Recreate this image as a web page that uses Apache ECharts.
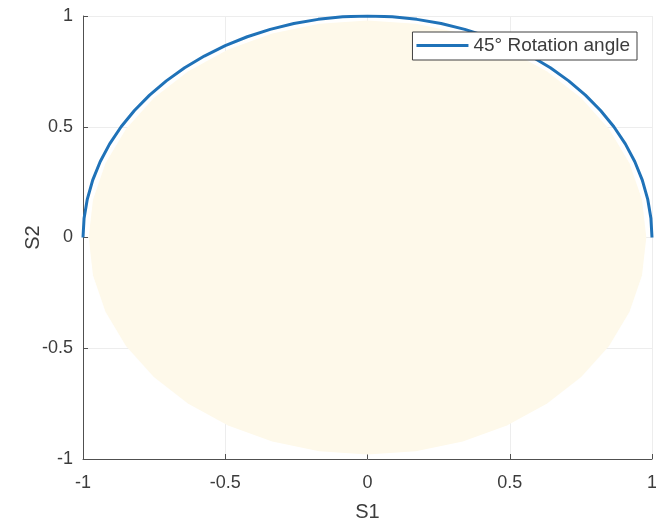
<!DOCTYPE html>
<html>
<head>
<meta charset="utf-8">
<script src="https://cdn.jsdelivr.net/npm/echarts@6/dist/echarts.min.js"></script>
<style>
  html, body { margin: 0; padding: 0; background: #fff; }
  #chart { width: 656px; height: 526px; }
</style>
</head>
<body>
<div id="chart"></div>
<script>
  var curveX = [-1, -0.9962, -0.9848, -0.9659, -0.9397, -0.9063, -0.866, -0.8192, -0.766, -0.7071, -0.6428, -0.5736, -0.5, -0.4226, -0.342, -0.2588, -0.1736, -0.0872, 0,
    0.0872, 0.1736, 0.2588, 0.342, 0.4226, 0.5, 0.5736, 0.6428, 0.7071, 0.766, 0.8192, 0.866, 0.9063, 0.9397, 0.9659, 0.9848, 0.9962, 1]
  var curveY = [0, 0.0872, 0.1736, 0.2588, 0.342, 0.4226, 0.5, 0.5736, 0.6428, 0.7071, 0.766, 0.8192, 0.866, 0.9063, 0.9397, 0.9659, 0.9848, 0.9962, 1,
    0.9962, 0.9848, 0.9659, 0.9397, 0.9063, 0.866, 0.8192, 0.766, 0.7071, 0.6428, 0.5736, 0.5, 0.4226, 0.342, 0.2588, 0.1736, 0.0872, 0]

  // cream disk outline (every 10 degrees)
  var fillX = [0.98, 0.965, 0.921, 0.849, 0.751, 0.63, 0.49, 0.335, 0.17, 0, -0.17, -0.335, -0.49, -0.63, -0.751, -0.849, -0.921, -0.965,
    -0.98, -0.965, -0.921, -0.849, -0.751, -0.63, -0.49, -0.335, -0.17, 0, 0.17, 0.335, 0.49, 0.63, 0.751, 0.849, 0.921, 0.965]
  var fillY = [0, 0.17, 0.335, 0.49, 0.63, 0.751, 0.849, 0.921, 0.965, 0.98, 0.965, 0.921, 0.849, 0.751, 0.63, 0.49, 0.335, 0.17,
    0, -0.17, -0.335, -0.49, -0.63, -0.751, -0.849, -0.921, -0.965, -0.98, -0.965, -0.921, -0.849, -0.751, -0.63, -0.49, -0.335, -0.17]

  var tickVals = [-1, -0.5, 0, 0.5, 1]
  var seriesName = '45° Rotation angle'

  var textColor = '#3c3c3c'
  var axisColor = '#505050'
  var fontFamily = '"Liberation Sans", Arial, sans-serif'

  var chart = echarts.init(document.getElementById('chart'))

  function axisCfg(name, gap) {
    return {
      type: 'value',
      min: tickVals[0],
      max: tickVals[tickVals.length - 1],
      interval: tickVals[1] - tickVals[0],
      name: name,
      nameLocation: 'middle',
      nameGap: gap,
      nameMoveOverlap: false,
      nameTextStyle: { color: textColor, fontSize: 20, fontFamily: fontFamily },
      axisLine: { onZero: false, lineStyle: { color: axisColor, width: 1 } },
      axisTick: { inside: true, length: 5, lineStyle: { color: axisColor } },
      axisLabel: { color: textColor, fontSize: 18, fontFamily: fontFamily },
      splitLine: { show: true, lineStyle: { color: '#ededed', width: 1 } }
    }
  }

  var xAxis = axisCfg('S1', 43)
  xAxis.axisLabel.margin = 15
  var yAxis = axisCfg('S2', 40)
  yAxis.axisLabel.margin = 10

  chart.setOption({
    backgroundColor: '#ffffff',
    animation: false,
    grid: { left: 83, right: 4, top: 16, bottom: 67, outerBoundsMode: 'none' },
    legend: {
      data: [{ name: seriesName, icon: 'rect' }],
      right: 19,
      top: 32,
      itemWidth: 52,
      itemHeight: 3,
      padding: [4, 7, 5, 4],
      borderColor: '#404040',
      borderWidth: 1,
      backgroundColor: '#ffffff',
      textStyle: { color: textColor, fontSize: 19, fontFamily: fontFamily }
    },
    xAxis: xAxis,
    yAxis: yAxis,
    series: [
      {
        type: 'custom',
        name: 'disk',
        silent: true,
        z: 1,
        data: [[0, 0]],
        renderItem: function (params, api) {
          var pts = fillX.map(function (x, i) { return api.coord([x, fillY[i]]) })
          return {
            type: 'polygon',
            shape: { points: pts },
            style: { fill: '#fef9ea', stroke: null }
          }
        }
      },
      {
        type: 'line',
        name: seriesName,
        z: 3,
        symbol: 'none',
        smooth: false,
        lineStyle: { color: '#1f72b8', width: 3 },
        itemStyle: { color: '#1f72b8' },
        data: curveX.map(function (x, i) { return [x, curveY[i]] })
      }
    ]
  })
</script>
</body>
</html>
